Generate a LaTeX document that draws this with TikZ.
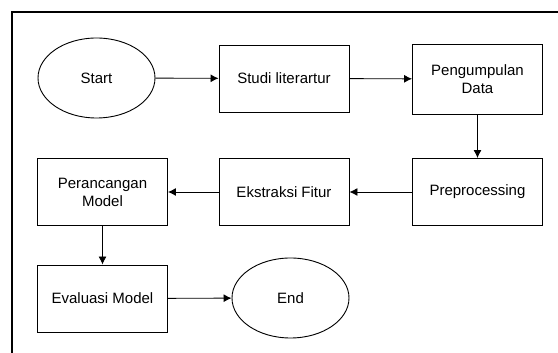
\documentclass[tikz,border=0pt]{standalone}
\usepackage{fontspec}
\setmainfont{Liberation Sans}
\usetikzlibrary{shapes.geometric,arrows.meta}

\begin{document}
\begin{tikzpicture}[
    x = 1pt,
    y = 1pt,
    font = \fontsize{15}{18}\selectfont,
    box/.style = {draw, line width=0.9pt, minimum width=130pt, minimum height=67pt,
      align=center, inner sep=2pt},
    terminal/.style = {draw, ellipse, line width=0.9pt, minimum width=117pt,
      minimum height=80pt, inner sep=0pt},
    flow/.style = {-{Latex[length=8pt, width=8pt]}, line width=0.9pt},
    ]
    \useasboundingbox (0,0) rectangle (558,353);
    % frame
    \draw[line width=1.1pt] (558,341) -- (12,341) -- (12,0);
    % first row
    \node[terminal] (start) at (96.5,275) {Start};
    \node[box] (studi) at (284,274.5) {Studi literartur};
    \node[box, minimum height=70pt] (kumpul) at (477.5,274) {Pengumpulan\\Data};
    % second row
    \node[box] (prepro) at (477.5,161) {Preprocessing};
    \node[box] (fitur) at (284,161) {Ekstraksi Fitur};
    \node[box] (rancang) at (102.5,161) {Perancangan\\Model};
    % third row
    \node[box] (evaluasi) at (102.5,54.5) {Evaluasi Model};
    \node[terminal] (end) at (290.5,55) {End};
    % arrows
    \draw[flow] (start) -- (studi);
    \draw[flow] (studi) -- (kumpul);
    \draw[flow] (kumpul) -- (prepro);
    \draw[flow] (prepro) -- (fitur);
    \draw[flow] (fitur) -- (rancang);
    \draw[flow] (rancang) -- (evaluasi);
    \draw[flow] (evaluasi) -- (end);
\end{tikzpicture}
\end{document}
